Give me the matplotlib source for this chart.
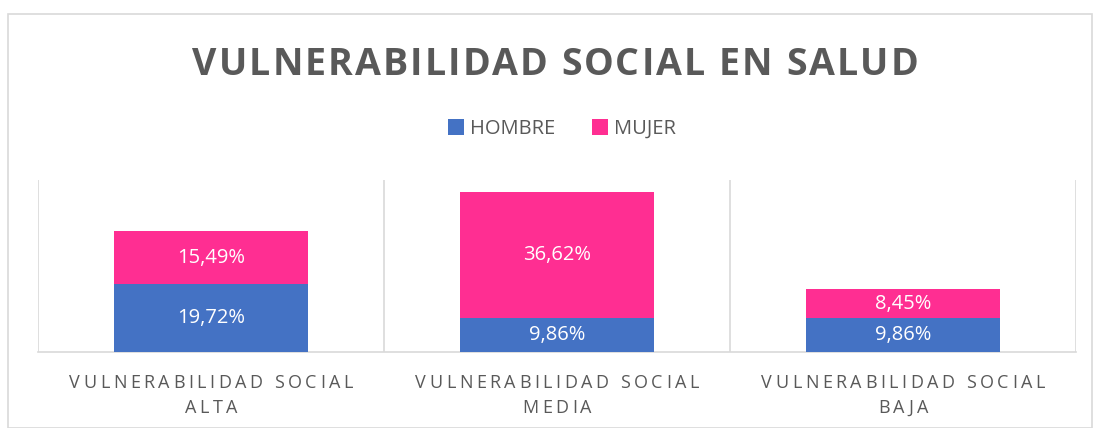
import matplotlib
matplotlib.use('Agg')
import matplotlib.pyplot as plt
from matplotlib.patches import Rectangle

categories = ['VULNERABILIDAD SOCIAL\nALTA', 'VULNERABILIDAD SOCIAL\nMEDIA', 'VULNERABILIDAD SOCIAL\nBAJA']
hombre = [19.72, 9.86, 9.86]
mujer = [15.49, 36.62, 8.45]
title = 'VULNERABILIDAD SOCIAL EN SALUD'

BLUE = '#4472C4'
PINK = '#FF2E92'
GRAY = '#595959'
W, H = 1094, 428

fig = plt.figure(figsize=(W / 100, H / 100), dpi=100)
renderer = fig.canvas.get_renderer()


def text_width(s, **kw):
    # advance width of s in pixels (pad with x so spaces count)
    t = fig.text(0, 0, 'x' + s + 'x', **kw)
    w1 = t.get_window_extent(renderer).width
    t.set_text('xx')
    w0 = t.get_window_extent(renderer).width
    t.remove()
    return w1 - w0


def spaced_text(cx, y, s, spacing, **kw):
    # letter-spaced text, cx/y in pixels from top-left, y = baseline
    total = text_width(s, **kw) + spacing * (len(s) - 1)
    left = cx - total / 2
    for i, ch in enumerate(s):
        if ch == ' ':
            continue
        xp = left + text_width(s[:i], **kw) + i * spacing
        fig.text(xp / W, 1 - y / H, ch, ha='left', va='baseline', **kw)


fig.patches.append(Rectangle((8 / W, 0), 1084 / W, 1 - 14 / H, transform=fig.transFigure,
                             fill=False, edgecolor='#D9D9D9', linewidth=1.2))

ax = fig.add_axes([38 / W, 1 - 352 / H, (1076 - 38) / W, (352 - 180) / H])
x = list(range(len(categories)))
ax.bar(x, hombre, width=0.56, color=BLUE, label='HOMBRE', zorder=3)
ax.bar(x, mujer, width=0.56, bottom=hombre, color=PINK, label='MUJER', zorder=3)

for i in x:
    ax.text(i, hombre[i] / 2, f'{hombre[i]:.2f}%'.replace('.', ','), ha='center', va='center',
            color='white', fontsize=14.5, family='Open Sans', zorder=4)
    ax.text(i, hombre[i] + mujer[i] / 2, f'{mujer[i]:.2f}%'.replace('.', ','), ha='center', va='center',
            color='white', fontsize=14.5, family='Open Sans', zorder=4)

ax.set_xlim(-0.5, 2.5)
ax.set_ylim(0, 50)
for xv in [-0.5, 0.5, 1.5, 2.5]:
    ax.axvline(xv, color='#D9D9D9', linewidth=1.2, zorder=1)
for s in ['top', 'left', 'right']:
    ax.spines[s].set_visible(False)
ax.spines['bottom'].set_color('#D9D9D9')
ax.spines['bottom'].set_linewidth(1.2)
ax.set_yticks([])
ax.set_xticks([])

# category labels, letter-spaced
lab_kw = dict(fontsize=13, color=GRAY, family='Open Sans')
first = categories[0].split('\n')[0]
lab_sp = (284 - text_width(first, **lab_kw)) / (len(first) - 1)
for i, c in enumerate(categories):
    cx = 38 + (i + 0.5) * (1076 - 38) / 3
    for j, line in enumerate(c.split('\n')):
        spaced_text(cx, 388 + j * 25, line, lab_sp, **lab_kw)

# title, letter-spaced
tit_kw = dict(fontsize=27, fontweight='bold', color=GRAY, family='Open Sans')
tit_sp = (726 - text_width(title, **tit_kw)) / (len(title) - 1)
spaced_text(555, 75, title, tit_sp, **tit_kw)

leg = fig.legend(loc='center', bbox_to_anchor=(562 / W, 1 - 129 / H), ncol=2, frameon=False,
                 prop={'family': 'Open Sans', 'size': 14.5}, handlelength=0.8, handleheight=0.8,
                 handletextpad=0.3, columnspacing=1.8)
for t in leg.get_texts():
    t.set_color(GRAY)

fig.savefig('out.png', dpi=100)
